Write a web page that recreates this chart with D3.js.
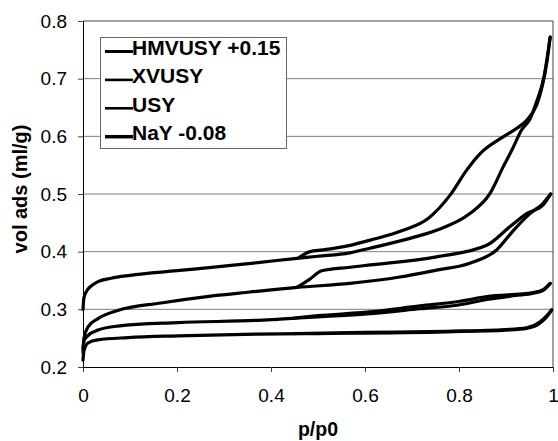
<!DOCTYPE html>
<html>
<head>
<meta charset="utf-8">
<script src="https://cdn.jsdelivr.net/npm/d3@7"></script>
<style>
  body { margin: 0; background: #fff; }
  svg { display: block; font-family: "Liberation Sans", Arial, sans-serif; }
</style>
</head>
<body>
<div class="chart"></div>
<script>
// isotherm branches, [p/p0, vol] (offsets already applied)
const hmvusyAds = [[0,0.300],[0.002,0.320],[0.008,0.332],[0.02,0.342],[0.032,0.348],[0.06,0.354],[0.1,0.359],[0.2,0.367],[0.3,0.375],[0.372,0.381],[0.45,0.388],[0.5,0.392],[0.568,0.398],[0.611,0.406],[0.681,0.420],[0.752,0.437],[0.823,0.466],[0.866,0.501],[0.894,0.547],[0.916,0.582],[0.933,0.611],[0.951,0.630],[0.965,0.660],[0.98,0.700],[0.994,0.772]];
const hmvusyDes = [[0.994,0.772],[0.987,0.729],[0.976,0.683],[0.965,0.654],[0.944,0.628],[0.923,0.614],[0.894,0.599],[0.845,0.570],[0.816,0.541],[0.781,0.498],[0.735,0.458],[0.681,0.437],[0.611,0.420],[0.568,0.411],[0.51,0.403],[0.483,0.400],[0.46,0.390]];
const xvusyAds = [[0,0.225],[0.002,0.250],[0.011,0.270],[0.032,0.284],[0.074,0.298],[0.166,0.311],[0.272,0.323],[0.355,0.330],[0.455,0.338],[0.568,0.345],[0.674,0.356],[0.752,0.368],[0.823,0.380],[0.88,0.403],[0.916,0.437],[0.951,0.466],[0.979,0.484],[0.995,0.500]];
const xvusyDes = [[0.995,0.500],[0.979,0.481],[0.944,0.466],[0.908,0.443],[0.859,0.411],[0.752,0.391],[0.611,0.377],[0.568,0.373],[0.508,0.367],[0.482,0.352],[0.455,0.338]];
const usyAds = [[0,0.232],[0.002,0.245],[0.011,0.255],[0.032,0.264],[0.074,0.271],[0.202,0.277],[0.372,0.281],[0.419,0.283],[0.5,0.287],[0.604,0.292],[0.717,0.301],[0.802,0.308],[0.859,0.317],[0.92,0.324],[0.958,0.328],[0.979,0.333],[0.994,0.345]];
const usyDes = [[0.994,0.345],[0.979,0.334],[0.958,0.329],[0.859,0.322],[0.802,0.314],[0.717,0.306],[0.604,0.295],[0.5,0.289],[0.45,0.285]];
const nayAds = [[0,0.212],[0.002,0.228],[0.011,0.242],[0.032,0.247],[0.096,0.251],[0.202,0.254],[0.372,0.257],[0.5,0.258],[0.774,0.261],[0.9,0.264],[0.944,0.267],[0.972,0.276],[0.987,0.287],[0.997,0.299]];
const nayDes = [[0.997,0.299],[0.987,0.289],[0.972,0.278],[0.944,0.268],[0.9,0.265],[0.774,0.262],[0.6,0.260],[0.45,0.258]];

const seriesNames = ['HMVUSY +0.15', 'XVUSY', 'USY', 'NaY -0.08'];
const xTicks = [0, 0.2, 0.4, 0.6, 0.8, 1];
const yTicks = [0.2, 0.3, 0.4, 0.5, 0.6, 0.7, 0.8];

const w = 558, h = 441;
const m = {top: 21, right: 5, bottom: 74, left: 83};

const xScale = d3.scaleLinear().domain([0, 1]).range([m.left, w - m.right]);
const yScale = d3.scaleLinear().domain([0.2, 0.8]).range([h - m.bottom, m.top]);

const svg = d3.select('div.chart').append('svg')
  .attr('width', w)
  .attr('height', h);

// gridlines
svg.append('g')
  .selectAll('line')
  .data(yTicks.slice(1, -1))
  .enter().append('line')
  .attr('x1', m.left).attr('x2', w - m.right)
  .attr('y1', d => yScale(d)).attr('y2', d => yScale(d))
  .attr('stroke', '#808080').attr('stroke-width', 1);

// plot border top and right
svg.append('path')
  .attr('d', `M${m.left},${yScale(0.8)}H${xScale(1)}V${yScale(0.2)}`)
  .attr('fill', 'none').attr('stroke', '#444').attr('stroke-width', 1);

const xAxis = d3.axisBottom(xScale).tickValues(xTicks).tickFormat(d3.format('')).tickSize(5).tickPadding(17);
svg.append('g')
  .attr('transform', 'translate(0,' + (h - m.bottom) + ')')
  .call(xAxis)
  .call(g => g.select('.domain').attr('stroke', '#000'))
  .call(g => g.selectAll('.tick line').attr('stroke', '#444'))
  .call(g => g.selectAll('text').attr('font-size', 19).attr('font-family', '"Liberation Sans", Arial, sans-serif').attr('fill', '#000'));

const yAxis = d3.axisLeft(yScale).tickValues(yTicks).tickFormat(d3.format('.1f')).tickSize(5).tickPadding(11);
svg.append('g')
  .attr('transform', 'translate(' + m.left + ',0)')
  .call(yAxis)
  .call(g => g.select('.domain').attr('stroke', '#000'))
  .call(g => g.selectAll('.tick line').attr('stroke', '#444'))
  .call(g => g.selectAll('text').attr('font-size', 19).attr('font-family', '"Liberation Sans", Arial, sans-serif').attr('fill', '#000'));

// isotherm curves
const line = d3.line()
  .x(d => xScale(d[0]))
  .y(d => yScale(d[1]))
  .curve(d3.curveMonotoneX);

const branches = [hmvusyAds, hmvusyDes, xvusyAds, xvusyDes, usyAds, usyDes, nayAds, nayDes];
svg.append('g')
  .selectAll('path')
  .data(branches.map(b => d3.sort(b, d => d[0])))
  .enter().append('path')
  .attr('d', line)
  .attr('fill', 'none')
  .attr('stroke', '#000')
  .attr('stroke-width', 3.2)
  .attr('stroke-linecap', 'round')
  .attr('stroke-linejoin', 'round');

// legend
const legend = svg.append('g');
legend.append('rect')
  .attr('x', 100.5).attr('y', 37.5)
  .attr('width', 186).attr('height', 111)
  .attr('fill', '#fff').attr('stroke', '#666').attr('stroke-width', 1);

const legendWidths = [3, 2.6, 2.6, 3.5];
const rows = legend.selectAll('g.row')
  .data(seriesNames)
  .enter().append('g')
  .attr('class', 'row')
  .attr('transform', (d, i) => 'translate(0,' + (55 + i * 28.4) + ')');
rows.append('line')
  .attr('x1', 105).attr('x2', 133)
  .attr('y1', -3.5).attr('y2', -3.5)
  .attr('stroke', '#000')
  .attr('stroke-width', (d, i) => legendWidths[i]);
rows.append('text')
  .attr('x', 132)
  .attr('font-size', 21)
  .attr('font-weight', 'bold')
  .text(d => d);

// axis titles
svg.append('text')
  .attr('x', 318).attr('y', 436)
  .attr('text-anchor', 'middle')
  .attr('font-size', 19.5).attr('font-weight', 'bold')
  .text('p/p0');

svg.append('text')
  .attr('transform', 'translate(27,189) rotate(-90)')
  .attr('text-anchor', 'middle')
  .attr('font-size', 20).attr('font-weight', 'bold')
  .text('vol ads (ml/g)');
</script>
</body>
</html>
